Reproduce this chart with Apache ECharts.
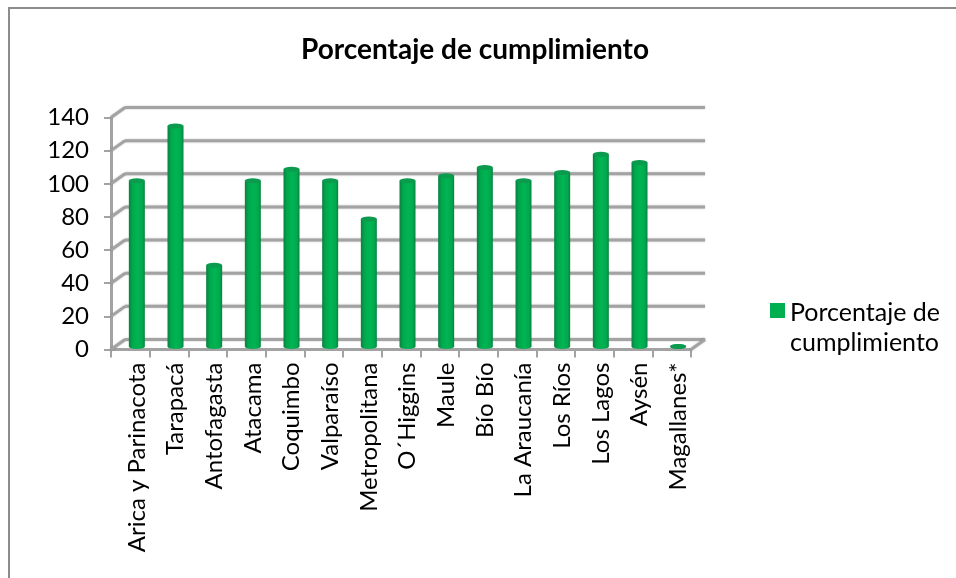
<!DOCTYPE html>
<html><head><meta charset="utf-8">
<style>html,body{margin:0;padding:0;background:#fff}#c{width:956px;height:578px}</style>
<script src="https://cdn.jsdelivr.net/npm/echarts@6/dist/echarts.min.js"></script>
</head><body><div id="c"></div>
<script>
const categories = ['Arica y Parinacota','Tarapacá','Antofagasta','Atacama','Coquimbo','Valparaíso','Metropolitana','O´Higgins','Maule','Bío Bío','La Araucanía','Los Ríos','Los Lagos','Aysén','Magallanes*'];
const values = [100,133,49,100,107,100,77,100,103,108,100,105,116,111,0];
const yTicks = [0,20,40,60,80,100,120,140];
const seriesName = 'Porcentaje de cumplimiento';
const FONT = 'Lato';
const wallColor = '#a3a3a3';
const depthX = 14, depthY = 10;

const cylinder = {type:'linear',x:0,y:0,x2:1,y2:0,colorStops:[
  {offset:0,color:'#0a7f40'},{offset:0.22,color:'#00a84c'},{offset:0.55,color:'#00b454'},{offset:0.85,color:'#00a84c'},{offset:1,color:'#0a7f40'}]};

const chart = echarts.init(document.getElementById('c'),null,{renderer:'canvas'});
chart.setOption({
  animation:false,
  backgroundColor:'#fff',
  title:{text:seriesName,top:31,textAlign:'center',left:470,
    textStyle:{fontFamily:FONT,fontSize:28,fontWeight:'bold',color:'#000'}},
  legend:{show:true,left:765,top:293,orient:'vertical',itemWidth:15,itemHeight:50,itemGap:4,
    data:[{name:seriesName,icon:'path://M0 0H15V15H0Z M0 50L0 50',itemStyle:{color:'#00b050'}}],
    formatter:()=>'Porcentaje de\ncumplimiento',
    textStyle:{fontFamily:FONT,fontSize:25,color:'#000',lineHeight:30}},
  graphic:[{type:'rect',silent:true,z:-1,shape:{x:9,y:8,width:960,height:600},
    style:{fill:'none',stroke:'#8c8c8c',lineWidth:2}}],
  grid:[
    {left:111,width:580,top:117.5,height:232,containLabel:false},
    {left:117.5,width:580,top:114.5,height:232,containLabel:false}
  ],
  xAxis:[
    {type:'category',gridIndex:0,data:categories,boundaryGap:true,
     axisLine:{show:true,lineStyle:{color:wallColor,width:3}},
     axisTick:{show:true,interval:0,alignWithLabel:false,length:8,lineStyle:{color:wallColor,width:2}},
     axisLabel:{show:false,interval:0}},
    {type:'category',gridIndex:1,data:categories,
     axisLine:{show:false},axisTick:{show:false},
     axisLabel:{interval:0,rotate:90,margin:16,fontFamily:FONT,fontSize:24,color:'#000'}}
  ],
  yAxis:[
    {type:'value',gridIndex:0,min:0,max:140,interval:20,
     axisLine:{show:true,lineStyle:{color:wallColor,width:3}},
     axisTick:{show:true,length:7,lineStyle:{color:wallColor,width:2}},
     splitLine:{show:false},
     axisLabel:{margin:22,fontFamily:FONT,fontSize:24,color:'#000'}},
    {type:'value',gridIndex:1,min:0,max:140,interval:20,show:false,splitLine:{show:false}}
  ],
  series:[
    {type:'custom',name:'walls',xAxisIndex:0,yAxisIndex:0,silent:true,z:1,
     data:yTicks,
     encode:{y:0},
     renderItem:(params,api)=>{
       const v=api.value(0);
       const cs=params.coordSys;
       const y=api.coord([0,v])[1];
       const x0=cs.x, x1=cs.x+cs.width;
       const ls={stroke:wallColor,lineWidth:3,fill:null,shadowBlur:2,shadowColor:'rgba(0,0,0,0.25)'};
       const kids=[
         {type:'line',shape:{x1:x0,y1:y,x2:x0+depthX,y2:y-depthY},style:ls},
         {type:'line',shape:{x1:x0+depthX,y1:y-depthY,x2:x1+depthX,y2:y-depthY},style:ls}
       ];
       if(v===0) kids.push({type:'line',shape:{x1:x1,y1:y,x2:x1+depthX,y2:y-depthY},style:ls});
       return {type:'group',children:kids};
     }},
    {type:'bar',name:seriesName,xAxisIndex:1,yAxisIndex:1,z:3,data:values,barWidth:16,
     itemStyle:{color:cylinder}},
    {type:'pictorialBar',name:'base',xAxisIndex:1,yAxisIndex:1,z:2,data:values,
     symbol:'circle',symbolSize:[16,5],symbolPosition:'start',symbolOffset:[0,'50%'],
     itemStyle:{color:cylinder}},
    {type:'pictorialBar',name:'cap',xAxisIndex:1,yAxisIndex:1,z:4,data:values,
     symbol:'circle',symbolSize:[16,5],symbolPosition:'end',symbolOffset:[0,'-50%'],
     itemStyle:{color:'#0b9a4e'}}
  ]
});
</script></body></html>
